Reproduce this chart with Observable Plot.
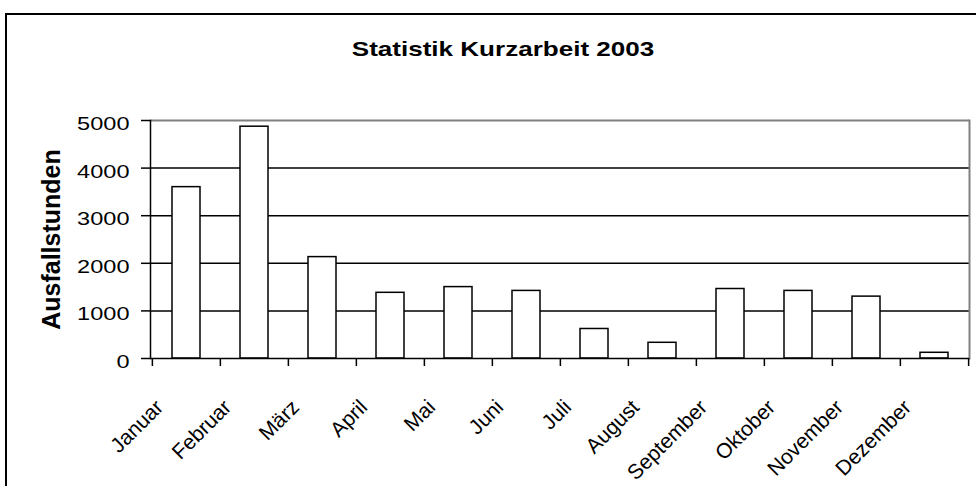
<!DOCTYPE html>
<html><head><meta charset="utf-8">
<script src="https://cdn.jsdelivr.net/npm/d3@7"></script>
<script src="https://cdn.jsdelivr.net/npm/@observablehq/plot@0.6"></script>
<style>
body{margin:0;background:#fff;font-family:"Liberation Sans",Arial,sans-serif;}
#wrap{position:relative;width:976px;height:486px;overflow:hidden;}
#frame{position:absolute;left:5px;top:13px;width:990px;height:500px;border:2px solid #000;box-sizing:border-box;}
#title{position:absolute;top:37px;left:503px;transform:translateX(-50%) scaleX(1.24);font-weight:bold;font-size:21px;white-space:nowrap;line-height:24px;}
#chart{position:absolute;left:0;top:0;}
</style></head><body>
<div id="wrap"><div id="frame"></div><div id="title"></div><div id="chart"></div></div>
<script>
const titleText = "Statistik Kurzarbeit 2003";
const yLabel = "Ausfallstunden";
const months = ["Januar","Februar","März","April","Mai","Juni","Juli","August","September","Oktober","November","Dezember"];
const hours = [3600, 4870, 2130, 1380, 1500, 1420, 620, 330, 1460, 1420, 1300, 120];
const yTicks = [0, 1000, 2000, 3000, 4000, 5000];

const data = months.map((m, i) => ({month: m, hours: hours[i]}));
const W = 976, H = 486, mL = 150, mR = 7, mT = 120, mB = 128;
const step = (W - mL - mR) / months.length;

document.getElementById("title").textContent = titleText;

const plot = Plot.plot({
  width: W, height: H, marginLeft: mL, marginRight: mR, marginTop: mT, marginBottom: mB,
  style: {fontFamily: "'Liberation Sans', Arial, sans-serif", fontSize: "19px", color: "#000", background: "transparent", overflow: "visible"},
  x: {type: "band", domain: months, paddingInner: 0.59, paddingOuter: 0.295, axis: null},
  y: {domain: [0, 5000], axis: null},
  marks: [
    Plot.ruleY(yTicks.filter(v => v > 0 && v < 5000), {stroke: "#000", strokeWidth: 1.5}),
    Plot.ruleY([yTicks[yTicks.length - 1]], {stroke: "#808080", strokeWidth: 2}),
    Plot.frame({anchor: "right", stroke: "#808080", strokeWidth: 2}),
    Plot.barY(data, {x: "month", y: "hours", fill: "#fff", stroke: "#000", strokeWidth: 1.5}),
    Plot.frame({anchor: "left", stroke: "#000", strokeWidth: 1.5}),
    Plot.ruleY([0], {stroke: "#000", strokeWidth: 1.5}),
    Plot.axisY({ticks: yTicks, tickSize: 9, tickFormat: () => "", strokeWidth: 1.5, label: null}),
    Plot.text(yTicks, {y: d => d, text: d => String(d), frameAnchor: "left", textAnchor: "end", dx: -21, dy: 3.5, fontSize: 19}),
    Plot.ruleX(months, {x: d => d, y1: 0, y2: 0, insetBottom: -8, dx: -step / 2, stroke: "#000", strokeWidth: 1.5}),
    Plot.ruleX([months[months.length - 1]], {x: d => d, y1: 0, y2: 0, insetBottom: -8, dx: step / 2, stroke: "#000", strokeWidth: 1.5}),
    Plot.text(months, {x: d => d, frameAnchor: "bottom", rotate: -45, textAnchor: "end", lineAnchor: "bottom", dx: -22, dy: 50, fontSize: 21}),
    Plot.text([yLabel], {frameAnchor: "left", rotate: -90, textAnchor: "middle", dx: -99, fontWeight: "bold", fontSize: 25})
  ]
});
document.getElementById("chart").appendChild(plot);
// mimic the horizontally stretched type of the original tick labels
const tickStrings = new Set(yTicks.map(String));
d3.select(plot).selectAll("text").each(function() {
  if (tickStrings.has(this.textContent)) {
    const L = this.getComputedTextLength();
    this.setAttribute("textLength", (L * 1.24).toFixed(1));
    this.setAttribute("lengthAdjust", "spacingAndGlyphs");
  }
});
</script>
</body></html>
